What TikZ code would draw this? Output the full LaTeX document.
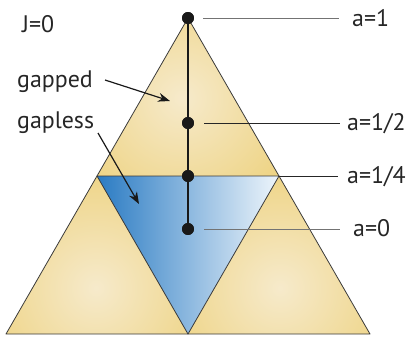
\documentclass[tikz,border=0pt]{standalone}
\usepackage{fontspec}
\setmainfont{PT Sans}
\usetikzlibrary{arrows.meta}
\definecolor{ylight}{HTML}{F6EACB}
\definecolor{ydark}{HTML}{E8C24C}
\definecolor{bdark}{HTML}{2A7BC3}
\definecolor{blight}{HTML}{EEF5FB}
\definecolor{edge}{HTML}{3A3A3A}
\pgfdeclareradialshading{yelsh}{\pgfpoint{0bp}{0bp}}{color(0bp)=(ylight); color(34bp)=(ydark); color(50bp)=(ydark)}
\tikzset{
  lbl/.style={font=\fontsize{24}{28}\selectfont, text=black!85, inner sep=0pt, anchor=base west},
  dot/.style={circle, fill=black!90, minimum size=12pt, inner sep=0pt},
  tri/.style={draw=edge, line width=0.8pt, line join=round},
  leader/.style={line width=1pt},
  pointer/.style={line width=1.2pt, black!90, -{Stealth[length=12pt,width=9pt]}},
}
\begin{document}
\begin{tikzpicture}[x=1bp,y=-1bp]
\useasboundingbox (0,0) rectangle (416,337);
% corner points
\coordinate (A) at (188,18);
\coordinate (L) at (6,334);
\coordinate (R) at (370,334);
\coordinate (ML) at (97,176);
\coordinate (MR) at (279,176);
\coordinate (B) at (188,334);
% yellow triangles
\begin{scope}
  \clip (A) -- (ML) -- (MR) -- cycle;
  \shade[shading=yelsh] (182,98) circle (160);
\end{scope}
\begin{scope}
  \clip (ML) -- (L) -- (B) -- cycle;
  \shade[shading=yelsh] (96,288) circle (160);
\end{scope}
\begin{scope}
  \clip (MR) -- (B) -- (R) -- cycle;
  \shade[shading=yelsh] (280,288) circle (160);
\end{scope}
% blue triangle
\shade[left color=bdark, right color=blight] (ML) -- (MR) -- (B) -- cycle;
% outlines
\draw[tri] (A) -- (L) -- (R) -- cycle;
\draw[tri] (ML) -- (MR) -- (B) -- cycle;
% labels
\node[lbl] (a1) at (352,26) {a=1};
\node[lbl] (a12) at (347,130) {a=1/2};
\node[lbl] (a14) at (347,183) {a=1/4};
\node[lbl] (a0) at (353,236) {a=0};
\node[lbl] (J) at (22,32) {J=0};
\node[lbl] (gapped) at (17,87) {gapped};
\node[lbl] (gapless) at (17,128) {gapless};
% dots
\node[dot] (d1) at (188,18) {};
\node[dot] (d12) at (188,123) {};
\node[dot] (d14) at (188,176) {};
\node[dot] (d0) at (188,229) {};
\draw[line width=3pt, black!90] (d1.center) -- (d0.center);
\node[dot] at (d1) {};
\node[dot] at (d12) {};
\node[dot] at (d14) {};
\node[dot] at (d0) {};
% leader lines
\coordinate (e1) at (339,18);
\coordinate (e12) at (340,123);
\coordinate (e14) at (338,176);
\coordinate (e0) at (340,229);
\draw[leader, black!55] ([xshift=15bp]d1.center) -- (e1);
\draw[leader, black!85] ([xshift=16bp]d12.center) -- (e12);
\draw[leader, black!85] (MR) -- (e14);
\draw[leader, black!55] ([xshift=16bp]d0.center) -- (e0);
% pointers
\coordinate (g1) at (105,80);
\coordinate (g2) at (170,101);
\coordinate (h1) at (98,133);
\coordinate (h2) at (139,204);
\draw[pointer] (g1) -- (g2);
\draw[pointer] (h1) -- (h2);
\end{tikzpicture}
\end{document}
